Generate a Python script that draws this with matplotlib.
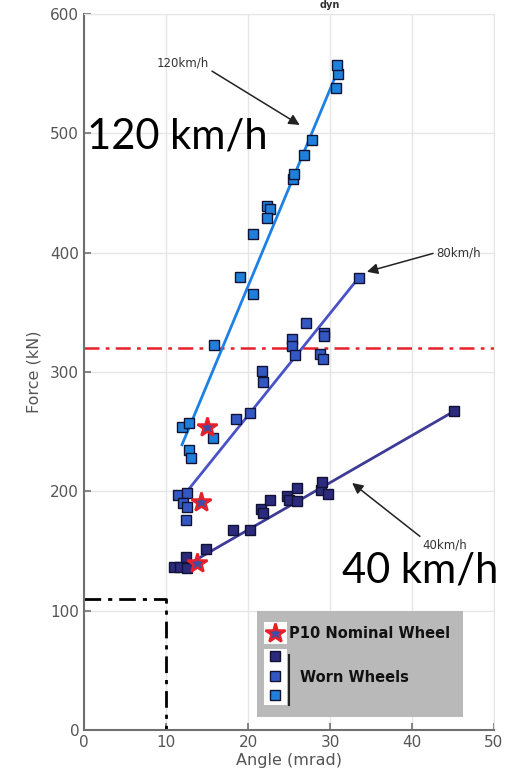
import matplotlib
matplotlib.use("Agg")
import matplotlib.pyplot as plt
from matplotlib.patches import Rectangle
import numpy as np

# Wheel/rail measurements: lateral angle (mrad) vs dynamic force (kN)
angle_40 = [11.0, 11.7, 12.4, 12.6, 14.9, 18.2, 20.2, 21.6, 21.8, 22.7,
            24.7, 25.0, 26.0, 26.0, 28.9, 29.0, 29.7, 45.1]
force_40 = [137, 137, 145, 136, 152, 168, 168, 185, 182, 193,
            196, 193, 203, 192, 201, 208, 198, 267]

angle_80 = [11.5, 12.6, 12.1, 12.6, 12.4, 18.5, 20.2, 21.7, 21.8, 25.4,
            25.4, 25.7, 27.1, 28.8, 29.1, 29.3, 29.3, 33.5]
force_80 = [197, 199, 190, 187, 176, 261, 266, 301, 292, 328,
            322, 314, 341, 315, 311, 333, 330, 379]

angle_120 = [11.95, 12.8, 12.8, 13.0, 15.7, 15.85, 19.0, 20.6, 20.6, 22.3,
             22.7, 22.3, 25.5, 25.6, 26.8, 27.8, 30.7, 31.0, 30.85]
force_120 = [254, 257, 235, 228, 245, 323, 380, 365, 416, 439,
             437, 429, 462, 466, 482, 494, 538, 550, 557]

# Linear fit end points per speed
fit_40_x, fit_40_y = [13.0, 45.1], [140, 267]
fit_80_x, fit_80_y = [12.8, 33.5], [202, 379]
fit_120_x, fit_120_y = [11.95, 30.8], [239, 550]

# Nominal (P10) wheel
nominal_angle = [13.8, 14.3, 15.0]
nominal_force = [140, 191, 254]

force_limit = 320
corner_angle, corner_force = 10, 110

c40, c80, c120 = "#2b2a7c", "#3358c4", "#1f80dc"
l40, l80, l120 = "#3d3b96", "#4a52c8", "#1c80e4"

fig = plt.figure(figsize=(5.2, 7.83), dpi=100)
ax = fig.add_axes([84 / 520, 53 / 783, 410 / 520, 716 / 783])

ax.set_xlim(0, 50)
ax.set_ylim(0, 600)
ax.set_xticks([0, 10, 20, 30, 40, 50])
ax.set_yticks([0, 100, 200, 300, 400, 500, 600])
ax.grid(True, color="#e6e6e6", linewidth=1.0)
ax.set_axisbelow(True)
for s in ["top", "right"]:
    ax.spines[s].set_color("#e6e6e6")
for s in ["left", "bottom"]:
    ax.spines[s].set_color("#707070")
    ax.spines[s].set_linewidth(1.5)
ax.tick_params(direction="in", length=5, width=1.2, color="#707070",
               labelcolor="#555555", labelsize=11)
ax.set_xlabel("Angle (mrad)", fontsize=11.5, color="#555555", labelpad=2)
ax.set_ylabel("Force (kN)", fontsize=11.5, color="#555555", labelpad=6)

# Reference limits
ax.axhline(force_limit, color="#e8202a", linestyle=(0, (6, 2.5, 1.5, 2.5)), linewidth=1.8, zorder=2)
ax.plot([0, corner_angle, corner_angle], [corner_force, corner_force, 0],
        color="black", linestyle=(0, (6, 2.5, 1.5, 2.5)), linewidth=2.0, zorder=2)

# Fitted lines
ax.plot(fit_40_x, fit_40_y, color=l40, linewidth=2.0, zorder=3)
ax.plot(fit_80_x, fit_80_y, color=l80, linewidth=2.0, zorder=3)
ax.plot(fit_120_x, fit_120_y, color=l120, linewidth=2.0, zorder=3)

sq = dict(marker="s", linestyle="none", markersize=7.2, markeredgecolor="#111133",
          markeredgewidth=1.0, zorder=4)
ax.plot(angle_40, force_40, markerfacecolor=c40, **sq)
ax.plot(angle_80, force_80, markerfacecolor=c80, **sq)
ax.plot(angle_120, force_120, markerfacecolor=c120, **sq)

ax.plot(nominal_angle, nominal_force, marker="*", linestyle="none", markersize=15,
        markerfacecolor="#3a4fa8", markeredgecolor="#e8202a", markeredgewidth=1.8, zorder=5)

# Speed annotations
arrow = dict(arrowstyle="-|>", color="#222222", linewidth=1.1, mutation_scale=16)
ax.annotate("120km/h", xy=(26.3, 507), xytext=(8.9, 559), fontsize=8.5, color="#333333",
            va="center", ha="left", arrowprops=dict(arrow, shrinkA=0, shrinkB=0,
                                                    relpos=(1.0, 0.0)))
ax.annotate("80km/h", xy=(34.5, 384), xytext=(42.9, 400), fontsize=8.5, color="#333333",
            va="center", ha="left", arrowprops=dict(arrow, shrinkA=0, shrinkB=0,
                                                    relpos=(0.0, 0.5)))
ax.annotate("40km/h", xy=(32.7, 207), xytext=(41.3, 155), fontsize=8.5, color="#333333",
            va="center", ha="left", arrowprops=dict(arrow, shrinkA=0, shrinkB=0,
                                                    relpos=(0.0, 1.0)))

ax.text(0.4, 497, "120 km/h", fontsize=30, family="Lato", color="black",
        va="center", ha="left", zorder=6)
ax.text(31.5, 134, "40 km/h", fontsize=30, family="Lato", color="black",
        va="center", ha="left", zorder=6, clip_on=False)

# Legend panel
ax.add_patch(Rectangle((21.1, 11), 25.1, 89, facecolor="#b9b9b9", edgecolor="none", zorder=6))
ax.add_patch(Rectangle((21.9, 72), 2.8, 18.5, facecolor="white", edgecolor="none", zorder=7))
ax.add_patch(Rectangle((21.9, 21), 2.8, 47, facecolor="white", edgecolor="none", zorder=7))
ax.plot([23.3], [81], marker="*", markersize=15, markerfacecolor="#3a4fa8",
        markeredgecolor="#e8202a", markeredgewidth=1.8, zorder=8, clip_on=False)
for yy, cc in zip([62, 45, 29], [c40, c80, c120]):
    ax.plot([23.3], [yy], markerfacecolor=cc, **dict(sq, zorder=8, markersize=7))
ax.plot([25.0, 25.0], [21, 63], color="#222222", linewidth=1.5, zorder=8)
ax.text(25.0, 81, "P10 Nominal Wheel", fontsize=10.5, fontweight="bold", color="#111111",
        va="center", ha="left", zorder=8)
ax.text(26.4, 44, "Worn Wheels", fontsize=10.5, fontweight="bold", color="#111111",
        va="center", ha="left", zorder=8)

fig.text(0.635, 0.9995, "dyn", fontsize=7, fontweight="bold", color="#333333",
         ha="center", va="top")

fig.savefig("out.png", dpi=100)
